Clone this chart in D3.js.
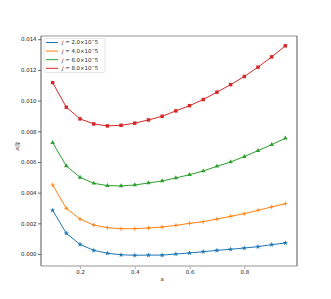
<!DOCTYPE html>
<html>
<head>
<meta charset="utf-8">
<script src="https://cdn.jsdelivr.net/npm/d3@7"></script>
<style>
  body { margin: 0; background: #fff; }
  text { font-family: "DejaVu Sans", sans-serif; }
</style>
</head>
<body>
<script>
// dados
const aValues = [0.1, 0.15, 0.2, 0.25, 0.3, 0.35, 0.4, 0.45, 0.5, 0.55, 0.6, 0.65, 0.7, 0.75, 0.8, 0.85, 0.9, 0.95];
const j2 = [2.85, 1.35, 0.63, 0.24, 0.05, -0.05, -0.08, -0.07, -0.07, 0.0, 0.07, 0.15, 0.24, 0.31, 0.39, 0.48, 0.61, 0.72];
const j4 = [4.50, 2.98, 2.28, 1.89, 1.72, 1.65, 1.65, 1.70, 1.76, 1.87, 2.00, 2.11, 2.28, 2.46, 2.63, 2.85, 3.07, 3.28];
const j6 = [7.26, 5.74, 5.00, 4.61, 4.46, 4.44, 4.50, 4.63, 4.76, 4.96, 5.17, 5.41, 5.72, 6.00, 6.35, 6.74, 7.13, 7.55];
const j8 = [11.17, 9.57, 8.81, 8.48, 8.35, 8.39, 8.53, 8.74, 8.98, 9.33, 9.67, 10.07, 10.55, 11.04, 11.57, 12.18, 12.85, 13.57];
const seriesLabels = ['2.0', '4.0', '6.0', '8.0'];
const xTicks = [0.2, 0.4, 0.6, 0.8];
const yTicks = [0, 0.002, 0.004, 0.006, 0.008, 0.010, 0.012, 0.014];

const series = [
  {label: seriesLabels[0], values: j2, color: '#1f77b4', marker: 'star'},
  {label: seriesLabels[1], values: j4, color: '#ff7f0e', marker: 'plus'},
  {label: seriesLabels[2], values: j6, color: '#2ca02c', marker: 'tri'},
  {label: seriesLabels[3], values: j8, color: '#d62728', marker: 'square'}
];

const width = 331, height = 299;
const mLeft = 41, mRight = 297, mTop = 36, mBottom = 266;

const svg = d3.select('body').append('svg')
    .attr('width', width)
    .attr('height', height);

const x = d3.scaleLinear().domain([0.0575, 0.9925]).range([mLeft, mRight]);
const y = d3.scaleLinear().domain([-0.00078, 0.01421]).range([mBottom, mTop]);

// EIXOS
const yAxis = svg.append('g')
    .attr('transform', 'translate(' + mLeft + ',0)')
    .call(d3.axisLeft(y).tickValues(yTicks).tickFormat(d3.format('.3f')).tickSize(3).tickPadding(1.5));
yAxis.select('.domain').remove();
yAxis.selectAll('line').attr('stroke', '#444').attr('stroke-width', 0.8);
yAxis.selectAll('text').attr('font-size', 5.4).attr('fill', '#222').attr('font-family', 'DejaVu Sans');

const xAxis = svg.append('g')
    .attr('transform', 'translate(0,' + mBottom + ')')
    .call(d3.axisBottom(x).tickValues(xTicks).tickFormat(d3.format('.1f')).tickSize(3).tickPadding(1.5));
xAxis.select('.domain').remove();
xAxis.selectAll('line').attr('stroke', '#999').attr('stroke-width', 0.8);
xAxis.selectAll('text').attr('font-size', 5.4).attr('fill', '#222').attr('font-family', 'DejaVu Sans');

// bordas: topo e base cinza claro, laterais escuras
svg.append('line').attr('x1', mLeft).attr('x2', mRight).attr('y1', mTop).attr('y2', mTop)
    .attr('stroke', '#b8b8b8').attr('stroke-width', 1.6);
svg.append('line').attr('x1', mLeft).attr('x2', mRight).attr('y1', mBottom).attr('y2', mBottom)
    .attr('stroke', '#b8b8b8').attr('stroke-width', 1.6);
svg.append('line').attr('x1', mLeft).attr('x2', mLeft).attr('y1', mTop).attr('y2', mBottom)
    .attr('stroke', '#444').attr('stroke-width', 0.9);
svg.append('line').attr('x1', mRight).attr('x2', mRight).attr('y1', mTop).attr('y2', mBottom)
    .attr('stroke', '#444').attr('stroke-width', 0.9);

const symbolFor = m => {
  if (m === 'star') return d3.symbol().type(d3.symbolStar).size(9);
  if (m === 'tri') return d3.symbol().type(d3.symbolTriangle).size(9);
  return d3.symbol().type(d3.symbolSquare).size(12);
};

const line = d3.line()
    .x((d, i) => x(aValues[i]))
    .y(d => y(d / 1000));

series.forEach(s => {
  const g = svg.append('g');
  g.append('path')
      .attr('d', line(s.values))
      .attr('fill', 'none')
      .attr('stroke', s.color)
      .attr('stroke-width', 1);
  if (s.marker === 'plus') {
    g.selectAll('.pt').data(s.values).enter().append('path')
        .attr('transform', (d, i) => 'translate(' + x(aValues[i]) + ',' + y(d / 1000) + ')')
        .attr('d', 'M-2,0H2M0,-2V2')
        .attr('stroke', s.color).attr('stroke-width', 0.9);
  } else {
    g.selectAll('.pt').data(s.values).enter().append('path')
        .attr('transform', (d, i) => 'translate(' + x(aValues[i]) + ',' + y(d / 1000) + ')')
        .attr('d', symbolFor(s.marker))
        .attr('fill', s.color);
  }
});

// LEGENDA
const legend = svg.append('g');
legend.append('rect')
    .attr('x', 44).attr('y', 38.5).attr('width', 61).attr('height', 34)
    .attr('rx', 1.5)
    .attr('fill', '#fff').attr('fill-opacity', 0.8)
    .attr('stroke', '#ddd').attr('stroke-width', 0.7);
series.forEach((s, i) => {
  const ly = 42.5 + i * 8.6;
  legend.append('line')
      .attr('x1', 46).attr('x2', 58).attr('y1', ly).attr('y2', ly)
      .attr('stroke', s.color).attr('stroke-width', 1);
  const t = legend.append('text')
      .attr('x', 62).attr('y', ly + 1.9)
      .attr('font-size', 5.4).attr('fill', '#222');
  t.append('tspan').attr('font-style', 'italic').text('j');
  t.append('tspan').text(' = ' + s.label + '×10');
  t.append('tspan').attr('dy', -2).attr('font-size', 4).text('−');
  t.append('tspan').attr('dy', 2).text('5');
});

// ROTULOS
svg.append('text')
    .attr('x', x(0.5)).attr('y', 281)
    .attr('text-anchor', 'middle')
    .attr('font-size', 5.4).attr('fill', '#222')
    .text('a');

const yl = svg.append('g').attr('transform', 'translate(17.5,146)');
yl.append('text').attr('y', -1.2).attr('text-anchor', 'middle')
    .attr('font-size', 4.4).attr('fill', '#222').text('∂e');
yl.append('line').attr('x1', -3).attr('x2', 3).attr('y1', 0).attr('y2', 0)
    .attr('stroke', '#222').attr('stroke-width', 0.4);
yl.append('text').attr('y', 4).attr('text-anchor', 'middle')
    .attr('font-size', 4.4).attr('fill', '#222').text('∂j');
</script>
</body>
</html>
